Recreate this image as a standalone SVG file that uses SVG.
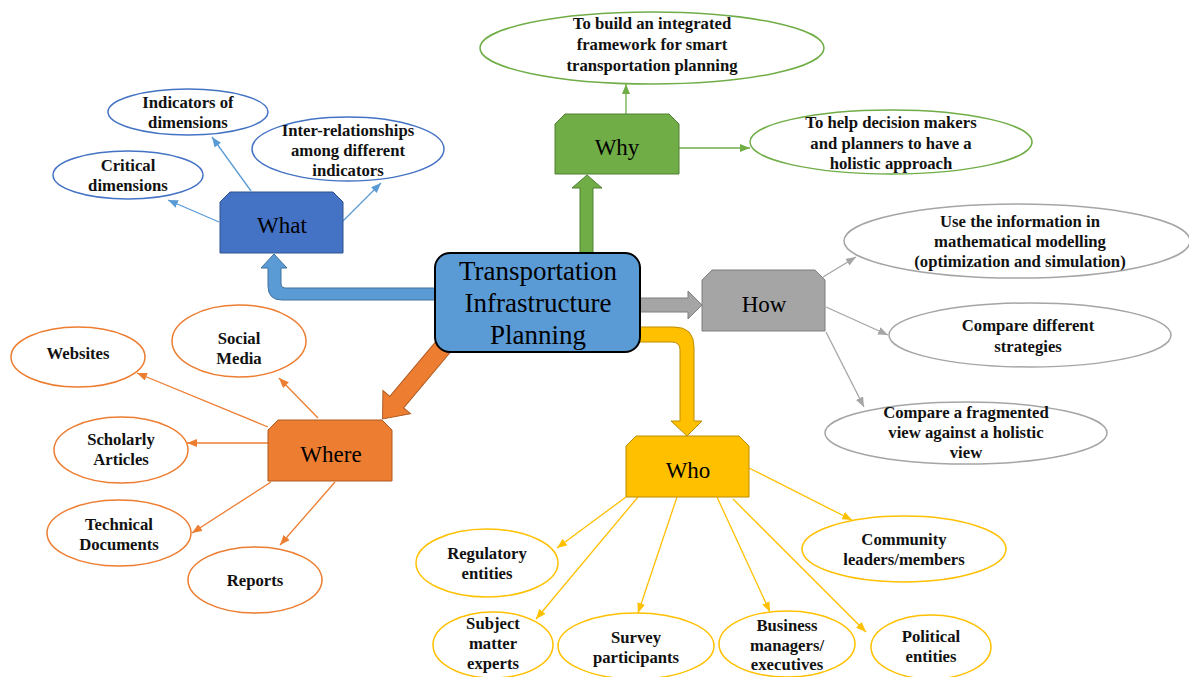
<svg xmlns="http://www.w3.org/2000/svg" width="1189" height="677" viewBox="0 0 1189 677">
<defs>
<style>
.lbl{font-family:"Liberation Serif","Times New Roman",serif;font-size:16.7px;font-weight:bold;fill:#111;text-anchor:middle}
.hd{font-family:"Liberation Serif","Times New Roman",serif;font-size:23px;fill:#000;text-anchor:middle}
.ctr{font-family:"Liberation Serif","Times New Roman",serif;font-size:27px;fill:#000;text-anchor:middle}
.el{fill:#fff;stroke-width:1.5}
.cb{stroke:#5B9BD5;stroke-width:1.3;fill:none;marker-end:url(#mb)}
.cg{stroke:#70AD47;stroke-width:1.3;fill:none;marker-end:url(#mg)}
.cy{stroke:#A5A5A5;stroke-width:1.3;fill:none;marker-end:url(#my)}
.co{stroke:#ED7D31;stroke-width:1.3;fill:none;marker-end:url(#mo)}
.cw{stroke:#FFC000;stroke-width:1.3;fill:none;marker-end:url(#mw)}
</style>
<marker id="mb" markerUnits="userSpaceOnUse" markerWidth="10" markerHeight="8" refX="10" refY="4" orient="auto"><path d="M0,0 L10,4 L0,8 Z" fill="#5B9BD5"/></marker>
<marker id="mg" markerUnits="userSpaceOnUse" markerWidth="10" markerHeight="8" refX="10" refY="4" orient="auto"><path d="M0,0 L10,4 L0,8 Z" fill="#70AD47"/></marker>
<marker id="my" markerUnits="userSpaceOnUse" markerWidth="10" markerHeight="8" refX="10" refY="4" orient="auto"><path d="M0,0 L10,4 L0,8 Z" fill="#A5A5A5"/></marker>
<marker id="mo" markerUnits="userSpaceOnUse" markerWidth="10" markerHeight="8" refX="10" refY="4" orient="auto"><path d="M0,0 L10,4 L0,8 Z" fill="#ED7D31"/></marker>
<marker id="mw" markerUnits="userSpaceOnUse" markerWidth="10" markerHeight="8" refX="10" refY="4" orient="auto"><path d="M0,0 L10,4 L0,8 Z" fill="#FFC000"/></marker>
</defs>
<rect width="1189" height="677" fill="#fff"/>

<g id="connectors">
  <path d="M580,258 L580,188 L572,188 L587,175 L602,188 L593,188 L593,258 Z" fill="#70AD47" stroke="#507E32" stroke-width="1"/>
  <path d="M440,288 L285,288 Q281,288 281,284 L281,268 L287,268 L274,254 L261,268 L268,268 L268,286 Q268,300 282,300 L440,300 Z" fill="#5B9BD5" stroke="#41719C" stroke-width="1"/>
  <path d="M636,298 L688,298 L688,291 L702,305 L688,319 L688,312 L636,312 Z" fill="#A5A5A5" stroke="#7F7F7F" stroke-width="1"/>
  <path d="M636,327 L674,327 Q694,327 694,347 L694,421 L702,421 L687,436 L671,421 L680,421 L680,350 Q680,342 672,342 L636,342 Z" fill="#FFC000" stroke="#BC8C00" stroke-width="1"/>
  <path transform="translate(443,347) rotate(130)" d="M0,-9 L72,-9 L72,-18 L94,0 L72,18 L72,9 L0,9 Z" fill="#ED7D31" stroke="#AE5A21" stroke-width="1"/>
  <line class="cb" x1="219" y1="222" x2="168" y2="200"/>
  <line class="cb" x1="251" y1="191" x2="212" y2="137"/>
  <line class="cb" x1="343" y1="221" x2="381" y2="183"/>
  <line class="cg" x1="626" y1="114" x2="626" y2="84"/>
  <line class="cg" x1="679" y1="148" x2="750" y2="148"/>
  <line class="cy" x1="823" y1="277" x2="856" y2="257"/>
  <line class="cy" x1="826" y1="307" x2="888" y2="335"/>
  <line class="cy" x1="826" y1="332" x2="864" y2="407"/>
  <line class="co" x1="268" y1="427" x2="137" y2="373"/>
  <line class="co" x1="318" y1="418" x2="279" y2="378"/>
  <line class="co" x1="268" y1="443" x2="187" y2="443"/>
  <line class="co" x1="271" y1="482" x2="192" y2="533"/>
  <line class="co" x1="335" y1="482" x2="280" y2="545"/>
  <line class="cw" x1="626" y1="497" x2="557" y2="548"/>
  <line class="cw" x1="638" y1="497" x2="536" y2="619"/>
  <line class="cw" x1="677" y1="497" x2="638" y2="613"/>
  <line class="cw" x1="717" y1="497" x2="770" y2="612"/>
  <line class="cw" x1="733" y1="499" x2="866" y2="632"/>
  <line class="cw" x1="749" y1="468" x2="852" y2="520"/>
</g>

<g id="center">
  <rect x="435" y="253" width="205" height="99" rx="15" fill="#5B9BD5" stroke="#000" stroke-width="2"/>
  <text class="ctr" x="538" y="280">Transportation</text>
  <text class="ctr" x="538" y="312">Infrastructure</text>
  <text class="ctr" x="538" y="344">Planning</text>
</g>

<g id="what">
  <path d="M230,192 L333,192 L343,202 L343,253 L220,253 L220,202 Z" fill="#4472C4" stroke="#2F528F" stroke-width="1"/>
  <text class="hd" x="282" y="233">What</text>
</g>
<g id="why">
  <path d="M565,114 L669,114 L679,124 L679,174 L555,174 L555,124 Z" fill="#70AD47" stroke="#507E32" stroke-width="1"/>
  <text class="hd" x="617" y="155">Why</text>
</g>
<g id="how">
  <path d="M712,270 L815,270 L825,280 L825,331 L702,331 L702,280 Z" fill="#A5A5A5" stroke="#7F7F7F" stroke-width="1"/>
  <text class="hd" x="764" y="312">How</text>
</g>
<g id="where">
  <path d="M278,420 L382,420 L392,430 L392,481 L268,481 L268,430 Z" fill="#ED7D31" stroke="#AE5A21" stroke-width="1"/>
  <text class="hd" x="331" y="462">Where</text>
</g>
<g id="who">
  <path d="M636,436 L739,436 L749,446 L749,497 L626,497 L626,446 Z" fill="#FFC000" stroke="#BC8C00" stroke-width="1"/>
  <text class="hd" x="688" y="478">Who</text>
</g>

<g id="indicators">
  <ellipse class="el" cx="188" cy="112" rx="80" ry="23" stroke="#4472C4"/>
  <text class="lbl" x="188" y="108">Indicators of</text>
  <text class="lbl" x="188" y="128">dimensions</text>
</g>
<g id="critical">
  <ellipse class="el" cx="128" cy="175" rx="75" ry="24" stroke="#4472C4"/>
  <text class="lbl" x="128" y="171">Critical</text>
  <text class="lbl" x="128" y="191">dimensions</text>
</g>
<g id="interrel">
  <ellipse class="el" cx="348" cy="149" rx="96" ry="32" stroke="#4472C4"/>
  <text class="lbl" x="348" y="136">Inter-relationships</text>
  <text class="lbl" x="348" y="156">among different</text>
  <text class="lbl" x="348" y="176">indicators</text>
</g>

<g id="build">
  <ellipse class="el" cx="652" cy="48" rx="172" ry="36" stroke="#70AD47"/>
  <text class="lbl" x="652" y="29">To build an integrated</text>
  <text class="lbl" x="652" y="50">framework for smart</text>
  <text class="lbl" x="652" y="71">transportation planning</text>
</g>
<g id="help">
  <ellipse class="el" cx="891" cy="142" rx="141" ry="32" stroke="#70AD47"/>
  <text class="lbl" x="891" y="128">To help decision makers</text>
  <text class="lbl" x="891" y="149">and planners to have a</text>
  <text class="lbl" x="891" y="169">holistic approach</text>
</g>

<g id="useinfo">
  <ellipse class="el" cx="1017" cy="241" rx="173" ry="37" stroke="#A5A5A5"/>
  <text class="lbl" x="1020" y="227">Use the information in</text>
  <text class="lbl" x="1020" y="247">mathematical modelling</text>
  <text class="lbl" x="1020" y="267">(optimization and simulation)</text>
</g>
<g id="compare">
  <ellipse class="el" cx="1030" cy="335" rx="141" ry="32" stroke="#A5A5A5"/>
  <text class="lbl" x="1028" y="331">Compare different</text>
  <text class="lbl" x="1028" y="352">strategies</text>
</g>
<g id="fragmented">
  <ellipse class="el" cx="966" cy="433" rx="141" ry="31" stroke="#A5A5A5"/>
  <text class="lbl" x="966" y="418">Compare a fragmented</text>
  <text class="lbl" x="966" y="438">view against a holistic</text>
  <text class="lbl" x="966" y="458">view</text>
</g>

<g id="websites">
  <ellipse class="el" cx="78" cy="357" rx="67" ry="30" stroke="#ED7D31"/>
  <text class="lbl" x="78" y="359">Websites</text>
</g>
<g id="social">
  <ellipse class="el" cx="239" cy="341" rx="67" ry="36" stroke="#ED7D31"/>
  <text class="lbl" x="239" y="344">Social</text>
  <text class="lbl" x="239" y="364">Media</text>
</g>
<g id="scholarly">
  <ellipse class="el" cx="121" cy="450" rx="67" ry="33" stroke="#ED7D31"/>
  <text class="lbl" x="121" y="445">Scholarly</text>
  <text class="lbl" x="121" y="465">Articles</text>
</g>
<g id="technical">
  <ellipse class="el" cx="119" cy="533" rx="72" ry="33" stroke="#ED7D31"/>
  <text class="lbl" x="119" y="530">Technical</text>
  <text class="lbl" x="119" y="550">Documents</text>
</g>
<g id="reports">
  <ellipse class="el" cx="255" cy="580" rx="67" ry="33" stroke="#ED7D31"/>
  <text class="lbl" x="255" y="586">Reports</text>
</g>

<g id="regulatory">
  <ellipse class="el" cx="487" cy="563" rx="71" ry="34" stroke="#FFC000"/>
  <text class="lbl" x="487" y="559">Regulatory</text>
  <text class="lbl" x="487" y="579">entities</text>
</g>
<g id="subject">
  <ellipse class="el" cx="493" cy="645" rx="60" ry="33" stroke="#FFC000"/>
  <text class="lbl" x="493" y="629">Subject</text>
  <text class="lbl" x="493" y="649">matter</text>
  <text class="lbl" x="493" y="669">experts</text>
</g>
<g id="survey">
  <ellipse class="el" cx="636" cy="646" rx="78" ry="33" stroke="#FFC000"/>
  <text class="lbl" x="636" y="643">Survey</text>
  <text class="lbl" x="636" y="663">participants</text>
</g>
<g id="business">
  <ellipse class="el" cx="787" cy="644" rx="68" ry="33" stroke="#FFC000"/>
  <text class="lbl" x="787" y="631">Business</text>
  <text class="lbl" x="787" y="651">managers/</text>
  <text class="lbl" x="787" y="670">executives</text>
</g>
<g id="political">
  <ellipse class="el" cx="931" cy="647" rx="60" ry="32" stroke="#FFC000"/>
  <text class="lbl" x="931" y="642">Political</text>
  <text class="lbl" x="931" y="662">entities</text>
</g>
<g id="community">
  <ellipse class="el" cx="904" cy="549" rx="102" ry="33" stroke="#FFC000"/>
  <text class="lbl" x="904" y="545">Community</text>
  <text class="lbl" x="904" y="565">leaders/members</text>
</g>
</svg>
